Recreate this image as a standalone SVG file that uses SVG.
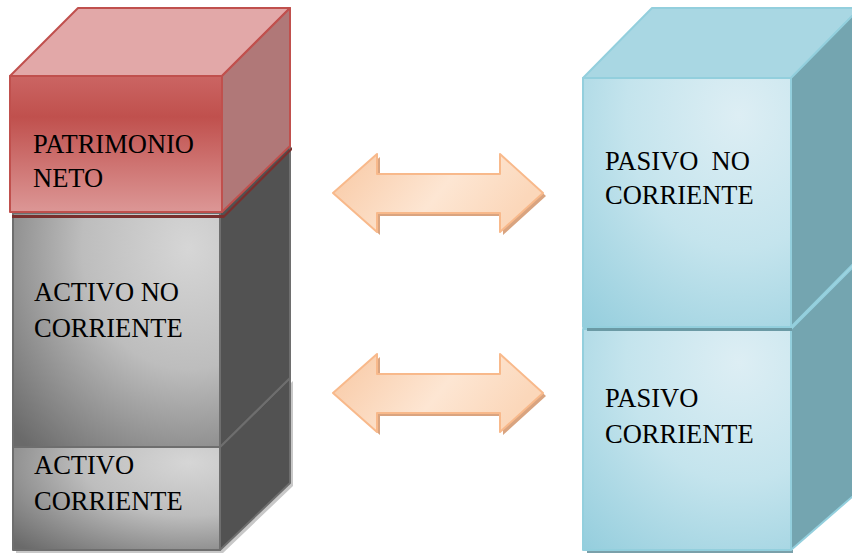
<svg xmlns="http://www.w3.org/2000/svg" width="852" height="556" viewBox="0 0 852 556">
<defs>
<linearGradient id="redFront" x1="0" y1="0" x2="0" y2="1">
<stop offset="0" stop-color="#cb6563"/>
<stop offset="0.3" stop-color="#c0504d"/>
<stop offset="1" stop-color="#dc9796"/>
</linearGradient>
<radialGradient id="grayFront" cx="0.85" cy="0.15" r="1.15">
<stop offset="0" stop-color="#d6d6d6"/>
<stop offset="0.45" stop-color="#bdbdbd"/>
<stop offset="1" stop-color="#6a6a6a"/>
</radialGradient>
<radialGradient id="blueFront" cx="0.75" cy="0.15" r="1.2">
<stop offset="0" stop-color="#ddeef4"/>
<stop offset="0.45" stop-color="#c4e4ed"/>
<stop offset="1" stop-color="#8fcbdb"/>
</radialGradient>
<linearGradient id="arrowFill" x1="0" y1="0" x2="1" y2="0.3">
<stop offset="0" stop-color="#f8c8a3"/>
<stop offset="0.6" stop-color="#fde6d3"/>
<stop offset="1" stop-color="#fbd7ba"/>
</linearGradient>
</defs>
<style>
.lbl{font-family:"Liberation Serif","Times New Roman",serif;font-size:26.5px;fill:#000;white-space:pre}
.redS{stroke:#c0504d;stroke-width:2;stroke-linejoin:round}
.grayS{stroke:#6e6e6e;stroke-width:2;stroke-linejoin:round}
.blueS{stroke:#93cfdd;stroke-width:2;stroke-linejoin:round}
.arrow{fill:url(#arrowFill);stroke:#f8b98b;stroke-width:2;stroke-linejoin:round}
.arrowShadow{fill:#d9a480}
</style>

<g id="activo-corriente">
<polygon points="223,450 293,381 293,486 223,553 16,553 16,450" fill="#c8c8c8"/>
<polygon points="220,447 290,378 290,483 220,550" fill="#525252" class="grayS"/>
<rect x="13" y="447" width="207" height="103" fill="url(#grayFront)" class="grayS"/>
<text class="lbl" x="34" y="474">ACTIVO</text>
<text class="lbl" x="34" y="510">CORRIENTE</text>
</g>

<g id="activo-no-corriente">
<polygon points="220,213 290,145 290,378 220,447" fill="#525252" class="grayS"/>
<rect x="13" y="213" width="207" height="234" fill="url(#grayFront)" class="grayS"/>
<text class="lbl" x="34" y="301">ACTIVO NO</text>
<text class="lbl" x="34" y="337">CORRIENTE</text>
</g>

<g id="patrimonio-neto">
<polygon points="12,215 224,215 292,147 292,150 224,218 12,218" fill="#7a2f2d"/>
<polygon points="10,76 78,8 290,8 222,76" fill="#e2a8a8" class="redS"/>
<polygon points="222,76 290,8 290,146 222,212" fill="#b07878" class="redS"/>
<rect x="10" y="76" width="212" height="136" fill="url(#redFront)" class="redS"/>
<text class="lbl" x="33" y="153">PATRIMONIO</text>
<text class="lbl" x="33" y="187">NETO</text>
</g>

<g id="pasivo-corriente">
<rect x="587" y="550" width="206" height="3" fill="#7aa0aa"/>
<polygon points="791,329 860,260 860,490 791,550" fill="#74a5b0" class="blueS"/>
<rect x="583" y="329" width="208" height="221" fill="url(#blueFront)" class="blueS"/>
<rect x="587" y="328" width="205" height="3" fill="#6b9aa5"/>
<text class="lbl" x="605" y="407">PASIVO</text>
<text class="lbl" x="605" y="443">CORRIENTE</text>
</g>

<g id="pasivo-no-corriente">
<polygon points="583,78 652,8 860,8 791,78" fill="#a9d7e3" class="blueS"/>
<polygon points="791,78 860,8 860,257 791,327" fill="#74a5b0" class="blueS"/>
<rect x="583" y="78" width="208" height="249" fill="url(#blueFront)" class="blueS"/>
<text class="lbl" x="605" y="170">PASIVO  NO</text>
<text class="lbl" x="605" y="204">CORRIENTE</text>
</g>

<g id="connectors">
<g id="arrow-top">
<path class="arrowShadow" d="M336,196 L380,157 L380,177 L503,177 L503,157 L546,196 L503,235 L503,216 L380,216 L380,235 Z"/>
<path class="arrow" d="M333,193 L377,154 L377,174 L500,174 L500,154 L543,193 L500,232 L500,213 L377,213 L377,232 Z"/>
</g>
<g id="arrow-bottom">
<path class="arrowShadow" d="M336,396 L380,357 L380,377 L503,377 L503,357 L546,396 L503,435 L503,416 L380,416 L380,435 Z"/>
<path class="arrow" d="M333,393 L377,354 L377,374 L500,374 L500,354 L543,393 L500,432 L500,413 L377,413 L377,432 Z"/>
</g>
</g>
</svg>
